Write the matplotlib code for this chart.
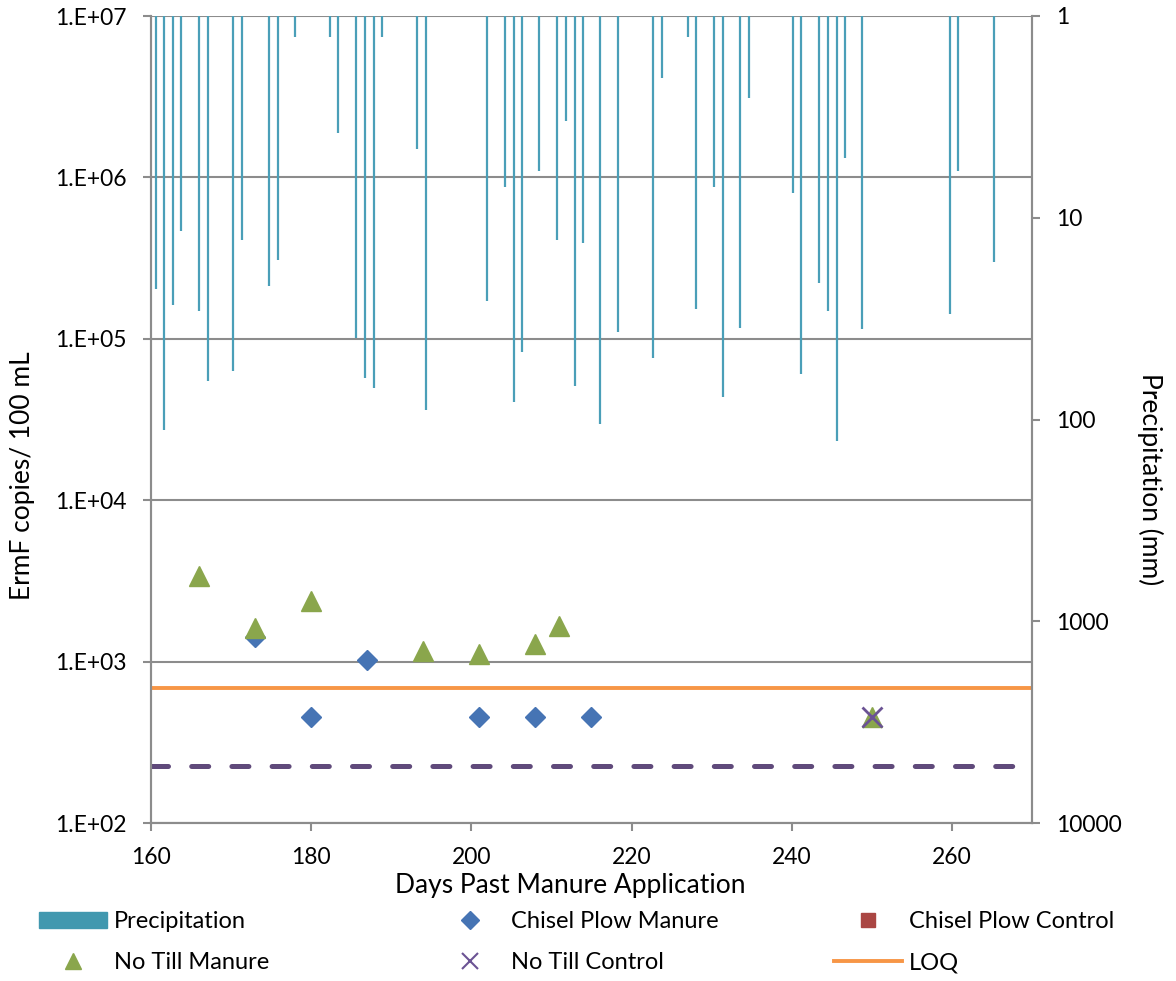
import numpy as np
import matplotlib
matplotlib.use("Agg")
import matplotlib.pyplot as plt
from matplotlib.lines import Line2D
from matplotlib.patches import Patch
from matplotlib.ticker import FixedLocator, FuncFormatter

plt.rcParams['font.family'] = ['Lato', 'DejaVu Sans']

# precipitation (mm), day past manure application
precip_day = [160.6, 161.6, 162.7, 163.8, 166.0, 167.1, 170.3, 171.4, 174.7, 175.8,
              178.0, 182.3, 183.4, 185.6, 186.7, 187.8, 188.9, 193.2, 194.3,
              202.0, 204.2, 205.3, 206.3, 208.5, 210.7, 211.8, 212.9, 214.0, 216.1,
              218.3, 222.7, 223.8, 227.1, 228.1, 230.3, 231.4, 233.6, 234.7,
              240.1, 241.2, 243.4, 244.5, 245.6, 246.7, 248.8, 259.7, 260.8, 265.2]
precip_mm = [22.5, 113, 27.0, 11.6, 28.9, 64.1, 57.2, 12.9, 21.8, 16.2,
             1.27, 1.27, 3.82, 39.4, 62.2, 69.9, 1.27, 4.55, 90.2,
             25.8, 7.07, 81.5, 46.1, 5.85, 12.9, 3.30, 67.9, 13.4, 104.7,
             36.9, 49.5, 2.03, 1.27, 28.3, 7.07, 77.5, 35.3, 2.55,
             7.57, 59.4, 21.1, 28.9, 128, 5.06, 35.8, 30.0, 5.85, 16.6]

# ErmF copies / 100 mL
cpm_day = [173, 180, 187, 201, 208, 215]
cpm_val = [1430, 455, 1030, 455, 455, 455]
cpc_day = []
cpc_val = []
ntm_day = [166, 173, 180, 194, 201, 208, 211, 250]
ntm_val = [3370, 1610, 2380, 1170, 1120, 1290, 1660, 455]
ntc_day = [250]
ntc_val = [455]
loq = 687
lod = 224
x_range = [160, 270]

W, H = 1176, 981
fig = plt.figure(figsize=(W / 100, H / 100), dpi=100)
ax = fig.add_axes([151 / W, 1 - 823 / H, 881 / W, 807 / H])
ax2 = ax.twinx()

grid_c = '#8C8C8C'
ax.set_yscale('log')
ax.set_ylim(1e2, 1e7)
ax.set_xlim(x_range)
ax.yaxis.set_major_locator(FixedLocator([1e2, 1e3, 1e4, 1e5, 1e6, 1e7]))
ax.yaxis.set_minor_locator(FixedLocator([]))
ax.yaxis.set_major_formatter(FuncFormatter(lambda v, _: "1.E+%02d" % int(round(np.log10(v)))))
ax.set_xticks([160, 180, 200, 220, 240, 260])
ax.grid(axis='y', color=grid_c, linewidth=1.5)
ax.set_axisbelow(True)

ax.plot(x_range, [loq, loq], color='#F79646', linewidth=2.8)
ax.plot(x_range, [lod, lod], color='#604A7B', linewidth=3.6, dashes=(3.4, 4.64),
        dash_capstyle='round')
ax.plot(cpm_day, cpm_val, 'D', color='#4674B4', markersize=10.5, linestyle='none')
ax.plot(cpc_day, cpc_val, 's', color='#AA4643', markersize=10, linestyle='none')
ax.plot(ntm_day, ntm_val, '^', color='#8AA64C', markersize=15, linestyle='none')
ax.plot(ntc_day, ntc_val, 'x', color='#6B5394', markersize=14, markeredgewidth=2,
        linestyle='none')

ax2.set_yscale('log')
ax2.set_ylim(10000, 1)
ax2.yaxis.set_major_locator(FixedLocator([1, 10, 100, 1000, 10000]))
ax2.yaxis.set_minor_locator(FixedLocator([]))
ax2.yaxis.set_major_formatter(FuncFormatter(lambda v, _: "%d" % v))
ax2.vlines(precip_day, 1, precip_mm, color='#4A9FB8', linewidth=1.6)

for a in (ax, ax2):
    for s in a.spines.values():
        s.set_color(grid_c)
        s.set_linewidth(1.5)
    a.spines['top'].set_visible(False)
    a.tick_params(colors=grid_c, labelcolor='black', labelsize=16.5, length=5.8,
                  width=1.5, pad=11.5)

fig.text(570 / W, 1 - 885 / H, "Days Past Manure Application", fontsize=19,
         ha='center', va='center')
fig.text(23 / W, 1 - 476 / H, "ErmF copies/ 100 mL", fontsize=19,
         ha='center', va='center', rotation=90)
fig.text(1150 / W, 1 - 479 / H, "Precipitation (mm)", fontsize=19,
         ha='center', va='center', rotation=270)

# legend: three columns placed like the original
cols = [
    (39, [Patch(color='#4198AF'),
          Line2D([], [], marker='^', color='#8AA64C', markersize=12, linestyle='none')],
     ["Precipitation", "No Till Manure"]),
    (436, [Line2D([], [], marker='D', color='#4674B4', markersize=9, linestyle='none'),
           Line2D([], [], marker='x', color='#6B5394', markersize=12, markeredgewidth=1.5,
                  linestyle='none')],
     ["Chisel Plow Manure", "No Till Control"]),
    (834, [Line2D([], [], marker='s', color='#AA4643', markersize=10, linestyle='none'),
           Line2D([], [], color='#F79646', linewidth=2.8)],
     ["Chisel Plow Control", "LOQ"]),
]
for x0, hs, ls in cols:
    leg = fig.legend(hs, ls, loc='center left', bbox_to_anchor=(x0 / W, 1 - 942 / H),
                     frameon=False, fontsize=17, handlelength=2.88, handleheight=0.65,
                     handletextpad=0.3, labelspacing=0.85, borderpad=0, borderaxespad=0)

fig.savefig("out.png", dpi=100)
